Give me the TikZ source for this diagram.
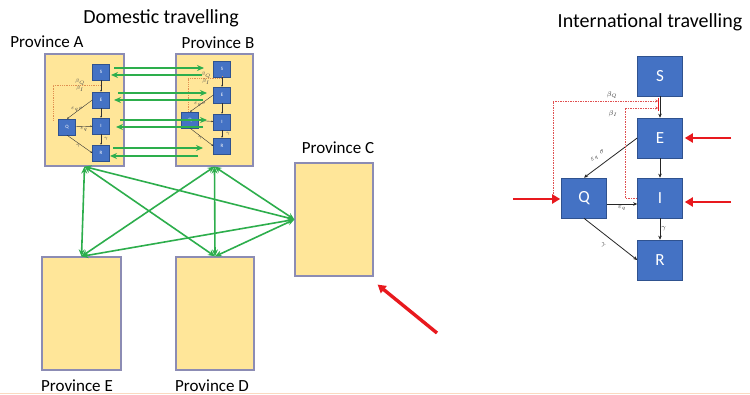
\documentclass[tikz,border=0pt]{standalone}
\usepackage{fontspec}
\setmainfont{Carlito}
\usetikzlibrary{arrows.meta,calc}
\definecolor{provfill}{HTML}{FFE699}
\definecolor{provedge}{HTML}{8C8CB4}
\definecolor{cblue}{HTML}{4472C4}
\definecolor{cblueedge}{HTML}{2F528F}
\definecolor{ggreen}{HTML}{2DAE4C}
\definecolor{rred}{HTML}{E8191E}
\definecolor{dred}{HTML}{E05050}
\definecolor{dorange}{HTML}{E09050}
\definecolor{peach}{HTML}{FBD9C0}
\begin{document}
\begin{tikzpicture}[x=1pt,y=-1pt,
  provbox/.style={draw=provedge, line width=1.2pt, fill=provfill, inner sep=0pt},
  title/.style={font=\fontsize{20}{22}\selectfont, text=black},
  provlabel/.style={font=\fontsize{17}{19}\selectfont, text=black},
  sbox/.style={draw=cblueedge, line width=0.4pt, fill=cblue, minimum width=17pt, minimum height=16pt, inner sep=0pt, text=white, font=\fontsize{5}{6}\selectfont},
  ibox/.style={draw=cblueedge, line width=0.6pt, fill=cblue, minimum width=45pt, minimum height=40pt, inner sep=0pt, text=white, font=\fontsize{17}{19}\selectfont},
  sarrow/.style={draw=black!80, line width=0.4pt, -{Stealth[length=2pt,width=1.6pt]}},
  iarrow/.style={draw=black!85, line width=0.8pt, -{Stealth[length=4pt,width=3.5pt]}},
  glink/.style={draw=ggreen, line width=1.6pt, {Stealth[length=7pt,width=6pt]}-{Stealth[length=7pt,width=6pt]}},
  garrow/.style={draw=ggreen, line width=1.6pt, -{Stealth[length=7pt,width=6pt]}},
  rarrow/.style={draw=rred, line width=2.6pt, -{Triangle[length=8pt,width=9pt]}},
  rdash/.style={draw=dred, line width=0.7pt, dash pattern=on 1.5pt off 1pt},
  odash/.style={draw=dorange, line width=0.4pt, dash pattern=on 1pt off 0.8pt},
  tinylab/.style={font=\fontsize{2.5}{3}\selectfont, text=black!70, inner sep=0.2pt},
  ilab/.style={font=\fontsize{7}{8}\selectfont, text=black!80, inner sep=1pt}]
\useasboundingbox (0,0) rectangle (750,395);
\fill[white] (0,0) rectangle (750,395);
\draw[peach, line width=1.2pt] (0,393.5) -- (750,393.5);

% titles
\node[title] (tdom) at (161,18) {Domestic travelling};
\node[title] (tint) at (650,22) {International travelling};

% provinces
\node[provbox, minimum width=79pt, minimum height=112pt] (A) at (84.5,110) {};
\node[provbox, minimum width=77pt, minimum height=112pt] (B) at (214.5,110) {};
\node[provbox, minimum width=78pt, minimum height=113pt] (C) at (334,219.5) {};
\node[provbox, minimum width=79pt, minimum height=113pt] (E) at (81.5,313.5) {};
\node[provbox, minimum width=78pt, minimum height=113pt] (D) at (215,313.5) {};

\node[provlabel] (lA) at (47,42) {Province A};
\node[provlabel] (lB) at (218,43) {Province B};
\node[provlabel] (lC) at (338,148) {Province C};
\node[provlabel] (lE) at (77,386) {Province E};
\node[provlabel] (lD) at (212,386) {Province D};

% inner model in A
\node[sbox] (aS) at (101,72) {S};
\node[sbox] (aE) at (101,100) {E};
\node[sbox] (aI) at (101,126) {I};
\node[sbox] (aR) at (101,153) {R};
\node[sbox] (aQ) at (67,127) {Q};
\draw[odash] (53,121) -- (53,85) -- (100,85);
\draw[dorange, line width=0.8pt] (101,83) -- (101,87);
\node[tinylab] (aLb1) at (80,82) {$\beta_Q$};
\node[tinylab] (aLb2) at (80,89) {$\beta_I$};
\draw[sarrow] (aS) -- (aE);
\draw[sarrow] (aE) -- (aI);
\draw[sarrow] (aI) -- (aR);
\draw[sarrow] (aE.west) -- (aQ.north);
\node[tinylab] (aLe) at (77,109) {$\varepsilon_q\sigma$};
\draw[sarrow] (aQ) -- (aI) node[tinylab, midway, below=0.5pt] {$\varepsilon_q$};
\draw[sarrow] (aQ.south) -- (aR.west);
\node[tinylab] (aLq) at (78,146) {$\gamma$};
\node[tinylab] (aLg) at (106,139) {$\gamma$};

% inner model in B
\node[sbox] (bS) at (222,69) {S};
\node[sbox] (bE) at (222,95) {E};
\node[sbox] (bI) at (222,122) {I};
\node[sbox] (bR) at (222,146) {R};
\node[sbox] (bQ) at (190,120) {Q};
\draw[odash] (188,112) -- (188,78) -- (221,78);
\draw[dorange, line width=0.8pt] (222,76) -- (222,80);
\node[tinylab] (bLb1) at (206,75.5) {$\beta_Q$};
\node[tinylab] (bLb2) at (206,82) {$\beta_I$};
\draw[sarrow] (bS) -- (bE);
\draw[sarrow] (bE) -- (bI);
\draw[sarrow] (bI) -- (bR);
\draw[sarrow] (bE.west) -- (bQ.north);
\node[tinylab] (bLe) at (200,104) {$\varepsilon_q\sigma$};
\draw[sarrow] (bQ) -- (bI);
\draw[sarrow] (bQ.south) -- (bR.west);
\node[tinylab] (bLq) at (200,138) {$\gamma$};
\node[tinylab] (bLg) at (228,134) {$\gamma$};

% horizontal green arrows between A and B
\coordinate (s1a) at (114,68);  \coordinate (s1b) at (204,68);
\coordinate (s2b) at (202,75);  \coordinate (s2a) at (111,75);
\coordinate (e1a) at (118,93);  \coordinate (e1b) at (207,93);
\coordinate (e2b) at (203,100); \coordinate (e2a) at (114,100);
\coordinate (i1a) at (120,120); \coordinate (i1b) at (207,120);
\coordinate (i2b) at (203,127); \coordinate (i2a) at (116,127);
\coordinate (r1a) at (113,148); \coordinate (r1b) at (203,148);
\coordinate (r2b) at (198,156); \coordinate (r2a) at (110,156);
\draw[garrow] (s1a) -- (s1b);
\draw[garrow] (s2b) -- (s2a);
\draw[garrow] (e1a) -- (e1b);
\draw[garrow] (e2b) -- (e2a);
\draw[garrow] (i1a) -- (i1b);
\draw[garrow] (i2b) -- (i2a);
\draw[garrow] (r1a) -- (r1b);
\draw[garrow] (r2b) -- (r2a);

% links between provinces
\draw[glink] (A.south) -- (E.north);
\draw[glink] (A.south) -- (D.north);
\draw[glink] (A.south) -- (C.west);
\draw[glink] (B.south) -- (E.north);
\draw[glink] (B.south) -- (D.north);
\draw[glink] (B.south) -- (C.west);
\draw[glink] (E.north) -- (C.west);
\draw[glink] (D.north) -- (C.west);

% red arrow into Province C
\coordinate (rcin) at (437,333);
\draw[rarrow, line width=3.4pt] (rcin) -- ($(C.south east)+(4,8)$);

% international model
\node[ibox] (iS) at (660,76) {S};
\node[ibox] (iE) at (660,138) {E};
\node[ibox] (iI) at (660,198) {I};
\node[ibox] (iR) at (660,260) {R};
\node[ibox] (iQ) at (584,198) {Q};

\draw[iarrow] (iS) -- (iE);
\draw[iarrow] (iE) -- (iI);
\draw[iarrow] (iI) -- (iR) node[ilab, midway, right] {$\gamma$};
\draw[iarrow] (iE.west) -- (iQ.north);
\node[ilab, rotate=37] (lEQ) at (598,156) {$\varepsilon_q\;\,\sigma$};
\draw[iarrow] ($(iQ.east)+(0,6)$) -- ($(iI.west)+(0,6)$) node[ilab, midway, below] {$\varepsilon_q$};
\draw[iarrow] (iQ.south) -- (iR.west);
\node[ilab, rotate=-37] (lQR) at (603,245) {$\gamma$};

\coordinate (qleft) at (513,199);
\coordinate (qdash) at (553,199);
\coordinate (mQ) at (658,101);
\coordinate (mI) at (658,108);
\draw[rdash, -{Stealth[length=2.5pt,width=3pt]}] (qdash) -- (553,101) -- (mQ);
\draw[rdash, -{Stealth[length=2.5pt,width=3pt]}] (iI.west) -- (625,198) -- (625,108) -- (mI);
\draw[rred, line width=1pt] (658,98) -- (658,111);
\node[ilab] (lbQ) at (612,95) {$\beta_Q$};
\node[ilab] (lbI) at (613,114) {$\beta_I$};

\coordinate (eright) at (731,138);
\coordinate (iright) at (731,202);
\draw[rarrow] (qleft) -- ($(iQ.west)+(-1,1)$);
\draw[rarrow] (eright) -- ($(iE.east)+(2,0)$);
\draw[rarrow] (iright) -- ($(iI.east)+(2,4)$);
\end{tikzpicture}
\end{document}
